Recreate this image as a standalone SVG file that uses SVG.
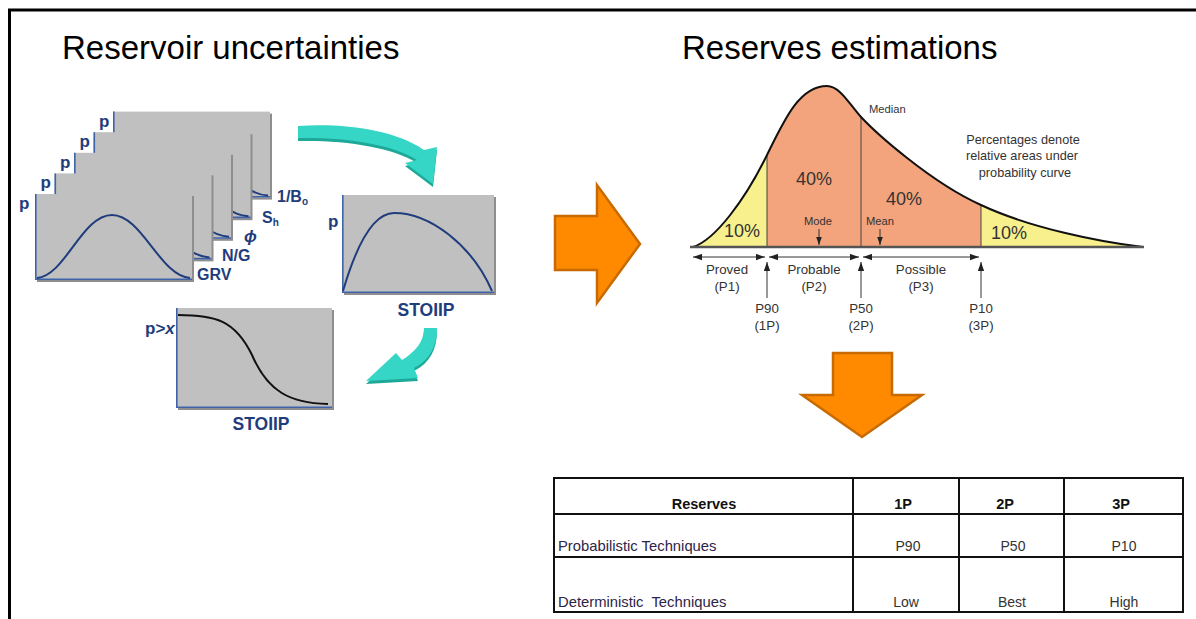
<svg xmlns="http://www.w3.org/2000/svg" width="1196" height="619" viewBox="0 0 1196 619">
<style>
text{font-family:"Liberation Sans",Arial,sans-serif}
.title{font-size:33px;fill:#000}
.bl{fill:#1f3d7c;font-weight:bold}
.card{fill:#c0c0c0}
.shadow{fill:#8e8e8e}
.axis{stroke:#3f63a8;stroke-width:1.6;fill:none}
.bell{stroke:#1f3d7c;stroke-width:2;fill:none}
.lbl{font-size:13.3px;fill:#333}
.note{font-size:12.7px;fill:#333}
.pct{font-size:18px;fill:#333}
.sm{font-size:11.2px;fill:#333}
.dim{stroke:#333;stroke-width:1;fill:none}
.tb{stroke:#111;stroke-width:2;fill:none}
.th{font-size:14.5px;font-weight:bold;fill:#111}
.tl{font-size:14.8px;fill:#2e2448}
.td{font-size:14px;fill:#333}
.teal{fill:#35d6c6}
.tealD{fill:#1ea898}
.orange{fill:#ff8a00;stroke:#c86a00;stroke-width:2.5;stroke-linejoin:miter}
</style>
<defs>
<marker id="ah" viewBox="0 0 10 7" refX="10" refY="3.5" markerWidth="9" markerHeight="7" markerUnits="userSpaceOnUse" orient="auto-start-reverse">
<path d="M0,0 L10,3.5 L0,7 Z" fill="#222"/>
</marker>
<marker id="ahs" viewBox="0 0 10 7" refX="10" refY="3.5" markerWidth="8" markerHeight="6" markerUnits="userSpaceOnUse" orient="auto">
<path d="M0,0 L10,3.5 L0,7 Z" fill="#222"/>
</marker>
<clipPath id="under">
<path d="M693,247 C715,240 745,200 767,155 C785,118 800,86 827,86 C840,86 850,105 861,117 C875,132 930,182 981,205 C1030,228 1100,242 1143,247 Z"/>
</clipPath>
<g id="cardback">
<rect class="shadow" x="2" y="2" width="157" height="86"/>
<rect class="card" x="0" y="0" width="157" height="86"/>
<path class="axis" d="M0.8,0 V85.2 H157"/>
<path class="bell" d="M132,75 C140,81 147,83.5 155,84"/>
</g>
</defs>
<rect x="0" y="0" width="1196" height="619" fill="#fff"/>
<rect x="9.5" y="10" width="1200" height="700" fill="none" stroke="#000" stroke-width="3"/>

<g id="title-left"><text class="title" x="62" y="59">Reservoir uncertainties</text></g>
<g id="title-right"><text class="title" x="682" y="59">Reserves estimations</text></g>

<g id="card-bo" transform="translate(113,111.6)">
<use href="#cardback"/>
<text class="bl" x="-14" y="15" font-size="17">p</text>
</g>
<g id="card-sh" transform="translate(93.5,132.2)">
<use href="#cardback"/>
<text class="bl" x="-14" y="15" font-size="17">p</text>
</g>
<g id="card-phi" transform="translate(74,152.8)">
<use href="#cardback"/>
<text class="bl" x="-14" y="15" font-size="17">p</text>
</g>
<g id="card-ng" transform="translate(54.5,173.4)">
<use href="#cardback"/>
<text class="bl" x="-14" y="15" font-size="17">p</text>
</g>
<g id="card-grv" transform="translate(35,194)">
<rect class="shadow" x="2" y="2" width="157" height="86"/>
<rect class="card" x="0" y="0" width="157" height="86"/>
<path class="axis" d="M0.8,0 V85.2 H157"/>
<path class="bell" d="M2,84 C30,82 47,21 77,21 C107,21 125,82 155,84"/>
<text class="bl" x="-16" y="15" font-size="17">p</text>
</g>
<g id="card-labels">
<text class="bl" x="197" y="280" font-size="16">GRV</text>
<text class="bl" x="222" y="261" font-size="16">N/G</text>
<text class="bl" x="244" y="242" font-size="17" font-style="italic">ϕ</text>
<text class="bl" x="262" y="223" font-size="16">S<tspan font-size="10" dy="3">h</tspan></text>
<text class="bl" x="277" y="202" font-size="16">1/B<tspan font-size="10" dy="3">o</tspan></text>
</g>

<g id="card-stoiip">
<rect class="shadow" x="344" y="197" width="152" height="98"/>
<rect class="card" x="342" y="195" width="152" height="98"/>
<path class="axis" d="M342.8,195 V292.2 H494"/>
<path class="bell" d="M343,291 C355,250 372,213 394,213 C430,213 472,245 492,291"/>
<text class="bl" x="328" y="227" font-size="17">p</text>
<text class="bl" x="426" y="316" font-size="17.5" text-anchor="middle">STOIIP</text>
</g>

<g id="card-exceedance">
<rect class="shadow" x="178" y="310" width="156" height="100"/>
<rect class="card" x="176" y="308" width="156" height="100"/>
<path class="axis" d="M176.8,308 V407.2 H332"/>
<path d="M178,315 C215,315 235,320 252,355 C268,392 290,403 328,404" fill="none" stroke="#111" stroke-width="2"/>
<text class="bl" x="145" y="334" font-size="17">p&gt;<tspan font-style="italic">x</tspan></text>
<text class="bl" x="261" y="430" font-size="17.5" text-anchor="middle">STOIIP</text>
</g>

<g id="connectors">
<path class="tealD" d="M298,129 C345,126 395,133 424,153 L437,150 L433,187 L405,166 L417,163 C392,147 345,140 298,141 Z"/>
<path class="teal" d="M298,126 C345,123 395,130 424,150 L437,147 L433,184 L405,163 L417,160 C392,144 345,137 298,138 Z"/>
<path class="tealD" d="M424,331 L437,331 C437,349 430,363 414,371 L418,381 L366,384 L396,356 L402,363 C415,355 424,345 424,331 Z"/>
<path class="teal" d="M424,328 L437,328 C437,346 430,360 414,368 L418,378 L366,381 L396,353 L402,360 C415,352 424,342 424,328 Z"/>
<polygon class="orange" points="555,216 597,216 597,185 640,244 597,303 597,270 555,270"/>
<polygon class="orange" points="833,353 892,353 892,395 922,395 862,437 802,395 833,395"/>
</g>

<g id="chart">
<g clip-path="url(#under)">
<rect x="690" y="80" width="77" height="170" fill="#f7f08c"/>
<rect x="767" y="80" width="214" height="170" fill="#f3a47c"/>
<rect x="981" y="80" width="165" height="170" fill="#f7f08c"/>
</g>
<line x1="767" y1="155" x2="767" y2="247" stroke="#444" stroke-width="1"/>
<line x1="861" y1="117" x2="861" y2="247" stroke="#444" stroke-width="1"/>
<line x1="981" y1="205" x2="981" y2="247" stroke="#444" stroke-width="1"/>
<path d="M693,247 C715,240 745,200 767,155 C785,118 800,86 827,86 C840,86 850,105 861,117 C875,132 930,182 981,205 C1030,228 1100,242 1143,247" fill="none" stroke="#111" stroke-width="2"/>
<line x1="690" y1="247" x2="1144" y2="247" stroke="#555" stroke-width="2.5"/>
<text class="pct" x="742" y="237" text-anchor="middle">10%</text>
<text class="pct" x="814" y="185" text-anchor="middle">40%</text>
<text class="pct" x="904" y="205" text-anchor="middle">40%</text>
<text class="pct" x="1009" y="239" text-anchor="middle">10%</text>
<text class="sm" x="818" y="225" text-anchor="middle">Mode</text>
<line class="dim" x1="819" y1="229" x2="819" y2="245" marker-end="url(#ahs)"/>
<text class="sm" x="880" y="225" text-anchor="middle">Mean</text>
<line class="dim" x1="880" y1="229" x2="880" y2="245" marker-end="url(#ahs)"/>
<text class="sm" x="869" y="113">Median</text>
<text class="note" x="1023" y="144" text-anchor="middle">Percentages denote</text>
<text class="note" x="1022" y="160" text-anchor="middle">relative areas under</text>
<text class="note" x="1025" y="177" text-anchor="middle">probability curve</text>
<line class="dim" x1="693" y1="257" x2="765" y2="257" marker-start="url(#ah)" marker-end="url(#ah)"/>
<line class="dim" x1="769" y1="257" x2="859" y2="257" marker-start="url(#ah)" marker-end="url(#ah)"/>
<line class="dim" x1="863" y1="257" x2="979" y2="257" marker-start="url(#ah)" marker-end="url(#ah)"/>
<text class="lbl" x="727" y="274" text-anchor="middle">Proved</text>
<text class="lbl" x="727" y="291" text-anchor="middle">(P1)</text>
<text class="lbl" x="814" y="274" text-anchor="middle">Probable</text>
<text class="lbl" x="814" y="291" text-anchor="middle">(P2)</text>
<text class="lbl" x="921" y="274" text-anchor="middle">Possible</text>
<text class="lbl" x="921" y="291" text-anchor="middle">(P3)</text>
<line class="dim" x1="767" y1="298" x2="767" y2="262" marker-end="url(#ah)"/>
<line class="dim" x1="861" y1="298" x2="861" y2="262" marker-end="url(#ah)"/>
<line class="dim" x1="981" y1="298" x2="981" y2="262" marker-end="url(#ah)"/>
<text class="lbl" x="767" y="313" text-anchor="middle">P90</text>
<text class="lbl" x="767" y="330" text-anchor="middle">(1P)</text>
<text class="lbl" x="861" y="313" text-anchor="middle">P50</text>
<text class="lbl" x="861" y="330" text-anchor="middle">(2P)</text>
<text class="lbl" x="981" y="313" text-anchor="middle">P10</text>
<text class="lbl" x="981" y="330" text-anchor="middle">(3P)</text>
</g>

<g id="table">
<rect class="tb" x="554" y="478" width="629" height="134" stroke-width="2.5"/>
<line class="tb" x1="554" y1="514" x2="1183" y2="514"/>
<line class="tb" x1="554" y1="557" x2="1183" y2="557"/>
<line class="tb" x1="853" y1="478" x2="853" y2="612"/>
<line class="tb" x1="959" y1="478" x2="959" y2="612"/>
<line class="tb" x1="1064" y1="478" x2="1064" y2="612"/>
<text class="th" x="704" y="509" text-anchor="middle">Reserves</text>
<text class="th" x="903" y="509" text-anchor="middle">1P</text>
<text class="th" x="1005" y="509" text-anchor="middle">2P</text>
<text class="th" x="1121" y="509" text-anchor="middle">3P</text>
<text class="tl" x="558" y="551">Probabilistic Techniques</text>
<text class="tl" x="558" y="607" xml:space="preserve">Deterministic  Techniques</text>
<text class="td" x="908" y="551" text-anchor="middle">P90</text>
<text class="td" x="1013" y="551" text-anchor="middle">P50</text>
<text class="td" x="1124" y="551" text-anchor="middle">P10</text>
<text class="td" x="906" y="607" text-anchor="middle">Low</text>
<text class="td" x="1012" y="607" text-anchor="middle">Best</text>
<text class="td" x="1124" y="607" text-anchor="middle">High</text>
</g>
</svg>
